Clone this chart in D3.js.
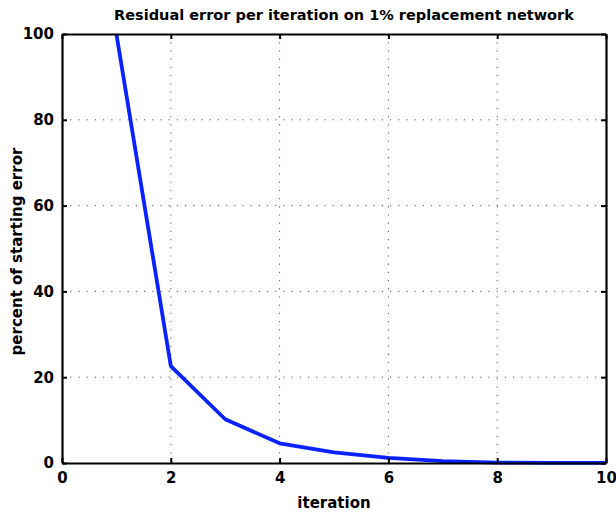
<!DOCTYPE html>
<html>
<head>
<meta charset="utf-8">
<script src="https://cdn.jsdelivr.net/npm/d3@7"></script>
<style>
  html, body { margin: 0; padding: 0; background: #fff; }
  svg { display: block; }
  text { font-family: "DejaVu Sans", sans-serif; fill: #000; }
</style>
</head>
<body>
<div id="chart"></div>
<script>
// Residual error (as % of the starting error) after each iteration
const iterations = [1, 2, 3, 4, 5, 6, 7, 8, 9, 10];
const residualPct = [100, 22.6, 10.2, 4.6, 2.5, 1.2, 0.45, 0.1, 0.05, 0.02];
const xTicks = [0, 2, 4, 6, 8, 10];
const yTicks = [0, 20, 40, 60, 80, 100];

const W = 616, H = 512;
const margin = { top: 34, right: 10, bottom: 49, left: 62 };
const iw = W - margin.left - margin.right;
const ih = H - margin.top - margin.bottom;

const svg = d3.select("#chart").append("svg")
  .attr("width", W).attr("height", H);

const g = svg.append("g")
  .attr("transform", `translate(${margin.left},${margin.top})`);

const x = d3.scaleLinear().domain([0, 10]).range([0, iw]);
const y = d3.scaleLinear().domain([0, 100]).range([ih, 0]);

// dotted grid
const grid = g.append("g").attr("stroke", "#555").attr("stroke-width", 1)
  .attr("stroke-dasharray", "1.2,7");
xTicks.filter(t => t > 0 && t < 10).forEach(t => {
  grid.append("line").attr("x1", x(t)).attr("x2", x(t))
    .attr("y1", 0).attr("y2", ih);
});
yTicks.filter(t => t > 0 && t < 100).forEach(t => {
  grid.append("line").attr("y1", y(t)).attr("y2", y(t))
    .attr("x1", 0).attr("x2", iw);
});

// data line
const line = d3.line().x((d, i) => x(iterations[i])).y(d => y(d));
g.append("defs").append("clipPath").attr("id", "plotclip")
  .append("rect").attr("x", 0).attr("y", -2).attr("width", iw + 2).attr("height", ih + 4);
g.append("path")
  .datum(residualPct)
  .attr("clip-path", "url(#plotclip)")
  .attr("fill", "none")
  .attr("stroke", "#0a22ff")
  .attr("stroke-width", 3.8)
  .attr("stroke-linejoin", "round")
  .attr("d", line);

// axes: ticks inward on all four sides
const tickSize = 5;
const axBottom = g.append("g").attr("transform", `translate(0,${ih})`)
  .call(d3.axisBottom(x).tickValues(xTicks).tickSizeInner(-tickSize).tickSizeOuter(0).tickPadding(9));
const axTop = g.append("g")
  .call(d3.axisTop(x).tickValues(xTicks).tickSizeInner(-tickSize).tickSizeOuter(0).tickFormat(""));
const axLeft = g.append("g")
  .call(d3.axisLeft(y).tickValues(yTicks).tickSizeInner(-tickSize).tickSizeOuter(0).tickPadding(8));
const axRight = g.append("g").attr("transform", `translate(${iw},0)`)
  .call(d3.axisRight(y).tickValues(yTicks).tickSizeInner(-tickSize).tickSizeOuter(0).tickFormat(""));

[axBottom, axTop, axLeft, axRight].forEach(a => {
  a.select(".domain").attr("stroke", "#000").attr("stroke-width", 2.2);
  a.selectAll(".tick line").attr("stroke", "#000").attr("stroke-width", 2);
  a.selectAll("text").attr("font-family", "DejaVu Sans, sans-serif")
    .attr("font-size", 15).attr("font-weight", "bold").attr("fill", "#000");
});

// title and axis labels
svg.append("text")
  .attr("x", 344).attr("y", 20)
  .attr("text-anchor", "middle")
  .attr("font-size", 14.5).attr("font-weight", "bold")
  .text("Residual error per iteration on 1% replacement network");

svg.append("text")
  .attr("x", margin.left + iw / 2).attr("y", 508)
  .attr("text-anchor", "middle")
  .attr("font-size", 15).attr("font-weight", "bold")
  .text("iteration");

svg.append("text")
  .attr("transform", `translate(22,${margin.top + ih / 2 + 3}) rotate(-90)`)
  .attr("text-anchor", "middle")
  .attr("font-size", 15).attr("font-weight", "bold")
  .text("percent of starting error");
</script>
</body>
</html>
